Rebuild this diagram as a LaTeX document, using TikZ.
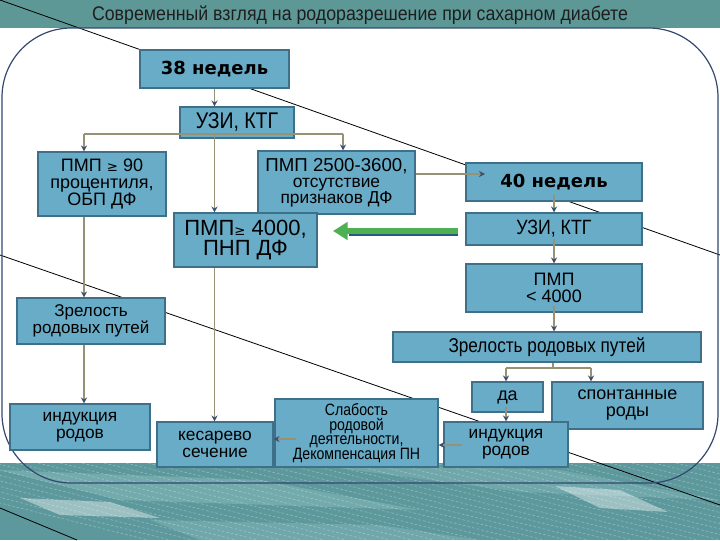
\documentclass[tikz,border=0pt]{standalone}
\usepackage{fontspec}
\setmainfont{Liberation Sans}
\newfontfamily\heavyfont{DejaVu Sans}
\newfontfamily\narrowfont{Liberation Sans}[FakeStretch=0.86]
\newfontfamily\titlefont{Liberation Sans}[FakeStretch=0.9]
\newfontfamily\symfont{DejaVu Sans}
\usetikzlibrary{arrows.meta}

\definecolor{boxfill}{RGB}{104,172,200}
\definecolor{boxline}{RGB}{62,112,138}
\definecolor{band}{RGB}{94,152,150}
\definecolor{water}{RGB}{92,152,156}
\definecolor{foam}{RGB}{170,212,212}
\definecolor{frame}{RGB}{52,72,112}
\definecolor{wiregray}{RGB}{150,146,118}
\definecolor{tipblue}{RGB}{60,80,112}
\definecolor{arrowgreen}{RGB}{78,176,82}
\definecolor{arrowshade}{RGB}{40,88,128}
\definecolor{titletext}{RGB}{30,30,30}

\begin{document}
\begin{tikzpicture}[
    x=0.75pt, y=-0.75pt,
    wh/.style 2 args={minimum width=#1*0.75pt, minimum height=#2*0.75pt},
    box/.style={draw=boxline, fill=boxfill, line width=0.8pt, inner sep=0pt, align=center, text=black},
    wire/.style={draw=wiregray, line width=1.3pt},
    link/.style={wire, -{Stealth[length=4.5pt, width=4.5pt, color=tipblue]}},
    slant/.style={black, line width=0.6pt}
]
    \useasboundingbox (0,0) rectangle (720,540);
    \clip (0,0) rectangle (720,540);

    % Фон: полоса заголовка и вода
    \fill[band] (0,0) rectangle (720,28);
    \fill[water] (0,463) rectangle (720,540);
    \begin{scope}
        \clip (0,463) rectangle (720,540);
        \fill[foam, opacity=0.30] (0,470) -- (260,480) -- (420,510) -- (120,500) -- cycle;
        \fill[foam, opacity=0.25] (300,463) -- (560,470) -- (720,500) -- (520,492) -- cycle;
        \fill[foam, opacity=0.25] (150,520) -- (380,525) -- (480,540) -- (200,540) -- cycle;
        \fill[white, opacity=0.40] (20,498) -- (110,502) -- (160,518) -- (60,515) -- cycle;
        \fill[white, opacity=0.40] (555,486) -- (620,490) -- (668,512) -- (600,508) -- cycle;
        \foreach \i in {0,...,40}
            \draw[white, opacity=0.35, line width=0.4pt, dash pattern=on 2pt off 1.5pt]
                (\i*22-160,463) -- ++(320,80);
    \end{scope}

    % Заголовок
    \node[font=\titlefont\fontsize{14.8}{15}\selectfont, text=titletext] (title) at (360,15)
        {Современный взгляд на родоразрешение при сахарном диабете};

    % Наклонные линии
    \draw[slant] (0,0) -- (720,255);
    \draw[slant] (0,255) -- (720,505);
    \draw[slant] (0,508) -- (77,540);

    % Рамка
    \draw[frame, line width=0.9pt, rounded corners=52pt] (2,28) rectangle (718,483);

    % 38 недель
    \node[box, wh={149}{38}, font=\heavyfont\bfseries\fontsize{13.5}{14}\selectfont] (n38) at (214.5,69) {38 недель};
    \node[box, wh={114}{31}, font=\narrowfont\fontsize{17}{18}\selectfont] (uzi1) at (237,122.5) {УЗИ, КТГ};
    \node[box, wh={128}{64}, font=\fontsize{13.5}{12.5}\selectfont] (pmp90) at (102,184)
        {ПМП {\symfont\fontsize{10}{10}\selectfont ≥} 90\\процентиля,\\ОБП ДФ};
    \node[box, wh={157}{63}, font=\fontsize{13}{12}\selectfont] (pmp2500) at (336.5,182.5)
        {{\fontsize{14}{12}\selectfont ПМП 2500-3600,}\\отсутствие\\признаков ДФ};
    \node[box, wh={143}{54}, font=\fontsize{16.5}{15.5}\selectfont] (pmp4000) at (245.5,240)
        {ПМП{\symfont\fontsize{10}{10}\selectfont ≥} 4000,\\ПНП ДФ};
    \node[box, wh={148}{46}, font=\fontsize{12.75}{12.75}\selectfont] (zrel1) at (91,321) {Зрелость\\родовых путей};
    \node[box, wh={140}{46}, font=\fontsize{13}{12.5}\selectfont] (ind1) at (80,427) {индукция\\родов};
    \node[box, wh={116}{45}, font=\fontsize{13}{12.5}\selectfont] (kes) at (215,444.5) {кесарево\\сечение};
    \node[box, wh={163}{68}, font=\narrowfont\fontsize{12.3}{11}\selectfont] (slab) at (356.5,433)
        {Слабость\\родовой\\деятельности,\\Декомпенсация ПН};

    % 40 недель
    \node[box, wh={176}{38}, font=\heavyfont\bfseries\fontsize{13.5}{14}\selectfont] (n40) at (554,182) {40 недель};
    \node[box, wh={176}{32}, font=\narrowfont\fontsize{15.5}{16}\selectfont] (uzi2) at (554,229) {УЗИ, КТГ};
    \node[box, wh={176}{48}, font=\fontsize{13.5}{12.5}\selectfont] (pmp4) at (554,288) {ПМП\\< 4000};
    \node[box, wh={308}{30}, font=\narrowfont\fontsize{15}{16}\selectfont] (zrel2) at (547,347) {Зрелость родовых путей};
    \node[box, wh={71}{30}, font=\fontsize{13.5}{14}\selectfont] (da) at (507.5,397) {да};
    \node[box, wh={151}{47}, font=\fontsize{13.5}{12.75}\selectfont] (spont) at (627.5,405.5) {спонтанные\\роды};
    \node[box, wh={124}{45}, font=\fontsize{13}{12.5}\selectfont] (ind2) at (506,444.5) {индукция\\родов};

    % Связи от УЗИ, КТГ
    \coordinate (fkL) at (84,134);
    \coordinate (fkM) at (214.5,134);
    \coordinate (fkR) at (343,134);
    \draw[link] (n38) -- (n38 |- uzi1.north);
    \draw[wire] (fkL) -- (fkR);
    \draw[link] (fkL) -- (fkL |- pmp90.north);
    \draw[link] (fkM) -- (fkM |- pmp4000.north);
    \draw[link] (fkR) -- (fkR |- pmp2500.north);
    \draw[link] (fkL |- pmp90.south) -- (fkL |- zrel1.north);
    \draw[link] (fkL |- zrel1.south) -- (fkL |- ind1.north);
    \draw[link] (fkM |- pmp4000.south) -- (fkM |- kes.north);

    % Переход к 40 неделям
    \coordinate (a40) at (485,174);
    \draw[link] (pmp2500.east |- a40) -- (a40);
    \draw[link] ([yshift=5pt]n40.south) -- (uzi2.north);
    \draw[link] ([yshift=5pt]uzi2.south) -- (pmp4.north);
    \draw[link] ([yshift=5pt]pmp4.south) -- (pmp4.south |- zrel2.north);

    % Развилка после зрелости
    \coordinate (fk2) at (553,368);
    \coordinate (fk2L) at (506,368);
    \coordinate (fk2R) at (591,368);
    \draw[wire] (fk2 |- zrel2.south) -- (fk2);
    \draw[wire] (fk2L) -- (fk2R);
    \draw[link] (fk2L) -- (fk2L |- da.north);
    \draw[link] (fk2R) -- (fk2R |- spont.north);
    \draw[link] ([yshift=4pt]fk2L |- da.south) -- (fk2L |- ind2.north);

    % Обратные стрелки
    \coordinate (s1) at (462,445);
    \coordinate (s2) at (296,439);
    \draw[link] (s1) -- (s1 -| slab.east);
    \draw[link] (s2) -- (s2 -| kes.east);

    % Зелёная стрелка
    \coordinate (gA) at (458,231);
    \coordinate (gB) at (333,231);
    \draw[arrowshade, line width=3pt] ([yshift=-2.5pt]gA) -- ([xshift=12pt,yshift=-2.5pt]gB);
    \draw[arrowgreen, line width=4.5pt, -{Triangle[length=11pt, width=13pt]}] (gA) -- (gB);
\end{tikzpicture}
\end{document}
